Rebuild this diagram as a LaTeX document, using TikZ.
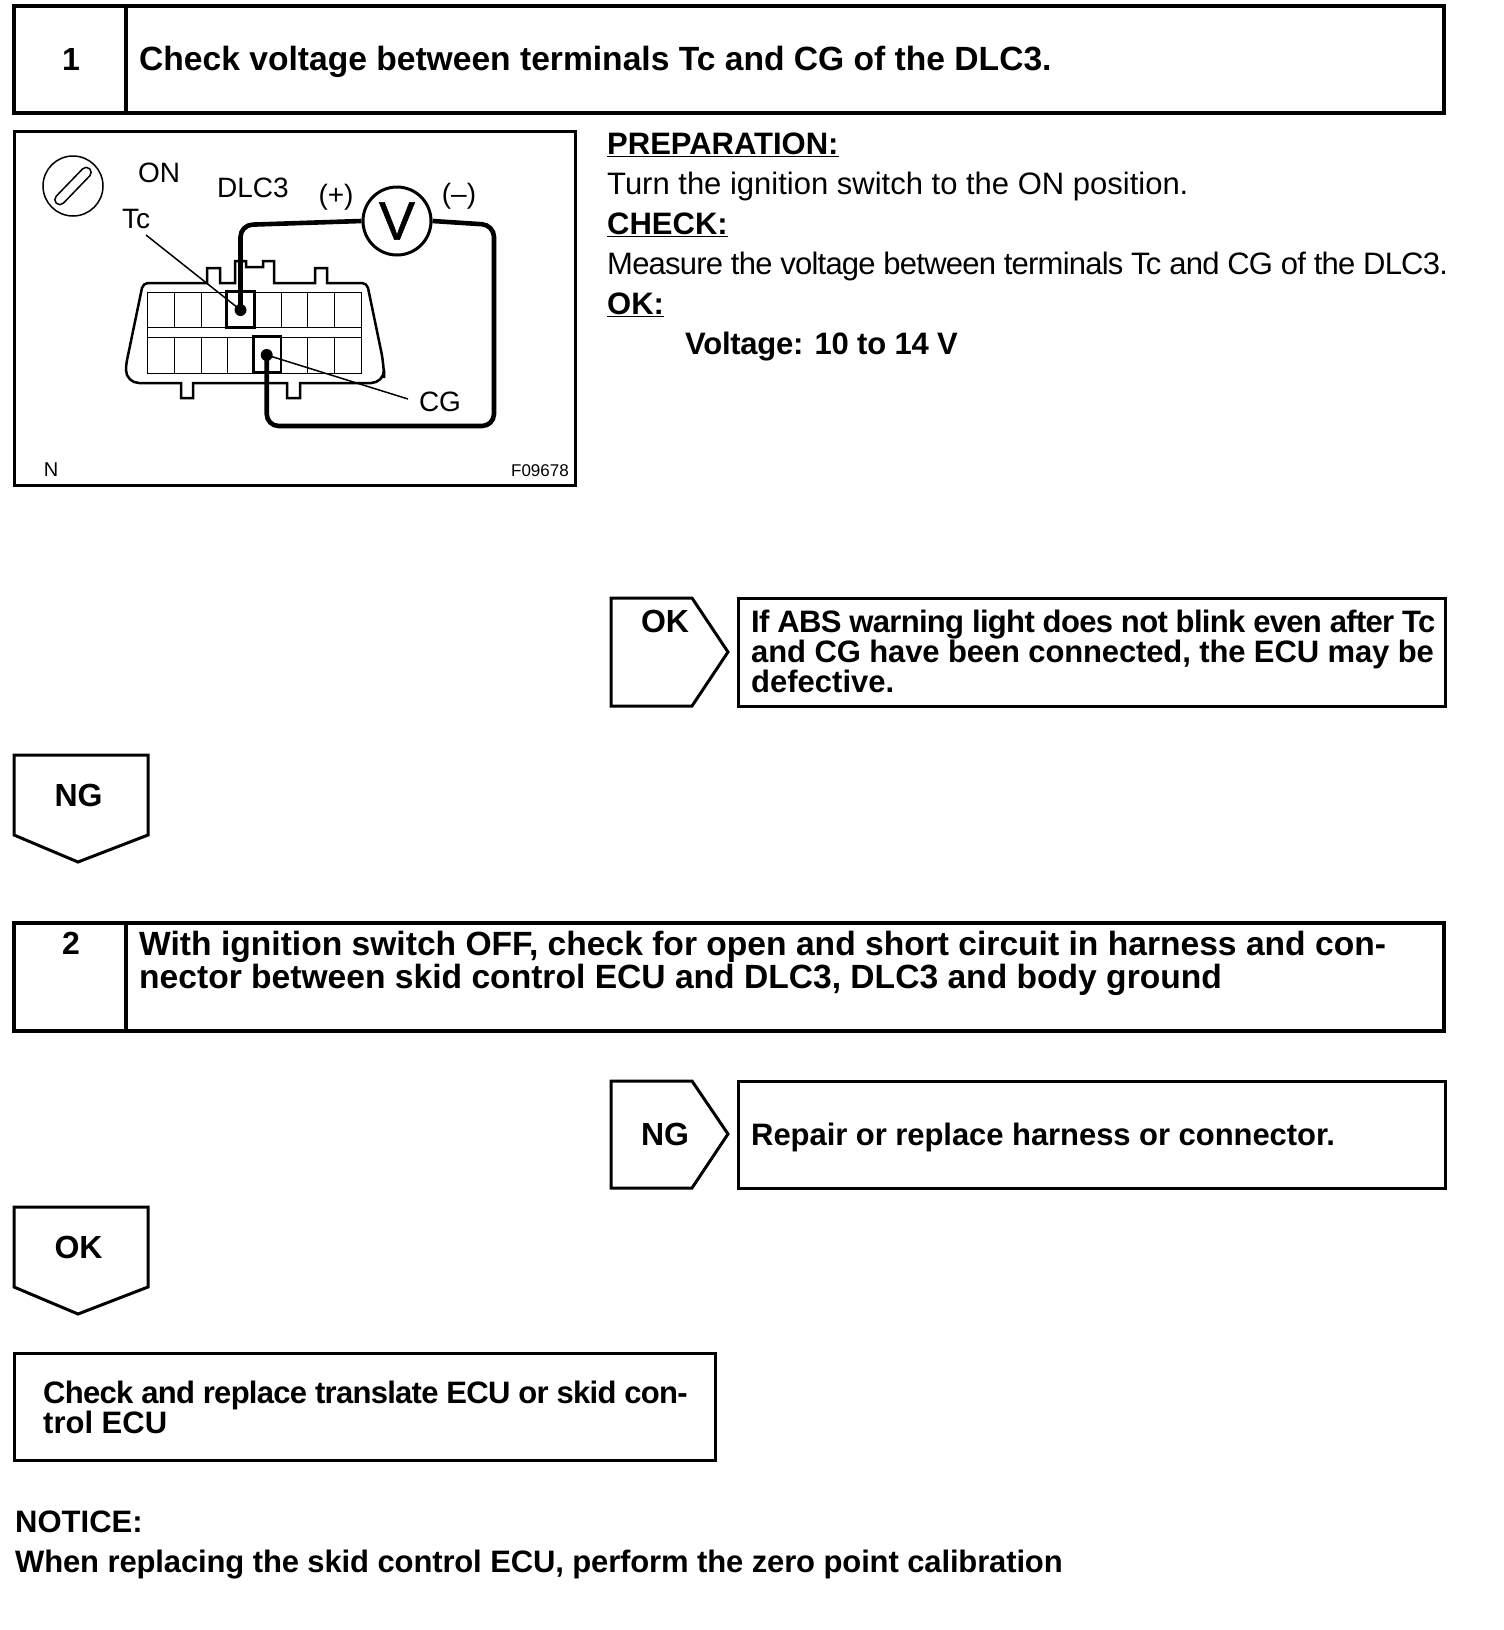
\documentclass[tikz,border=0pt]{standalone}
\usepackage{fontspec}
\setmainfont{Liberation Sans}
\newcommand{\squeezed}[2]{{\addfontfeature{LetterSpace=#1}#2}}
\tikzset{
    box/.style={line width=3.2pt},
    tagbox/.style={line width=3pt},
    thin grid/.style={line width=1.1pt},
    probe/.style={line width=4.6pt, rounded corners=12pt},
    lab/.style={inner sep=0pt, font=\fontsize{28}{30}\selectfont},
    bodytxt/.style={inner sep=0pt, anchor=west, align=left, font=\fontsize{31}{32}\bfseries\selectfont},
    flag/.style={inner sep=0pt, font=\fontsize{32}{32}\bfseries\selectfont}
}
\begin{document}
\begin{tikzpicture}[x=1pt,y=-1pt]
    \useasboundingbox (0,0) rectangle (1504,1630);
    % step 1
    \draw[box] (14,6) rectangle (1444,113);
    \draw[box] (126,6) -- (126,113);
    \node[flag] (num1) at (71,59) {1};
    \node[bodytxt, font=\fontsize{33.6}{34}\bfseries\selectfont] (title1) at (139,62) {Check voltage between terminals Tc and CG of the DLC3.};
    % picture frame
    \draw[line width=3pt] (14,131) rectangle (575,485);
    \draw[line width=1.5pt] (73,186) circle (30);
    \draw[line width=1.5pt, rounded corners=5pt, rotate around={46:(73,186)}] (49,181) rectangle (97,191);
    \node[lab] (on) at (159,173) {ON};
    \node[lab] (dlc) at (253,188) {DLC3};
    \node[lab] (plus) at (336,197) {(+)};
    \node[lab] (minus) at (459,196) {(--)};
    \node[lab] (tc) at (136,219) {Tc};
    \node[lab] (cg) at (440,402) {CG};
    \node[lab, font=\fontsize{20}{20}\selectfont] (n) at (51,470) {N};
    \node[lab, anchor=east, font=\fontsize{17}{17}\selectfont] (code) at (569,471) {F09678};
    % connector body
    \draw[line width=2.5pt, rounded corners=5pt] (207,283) -- (143,283) -- (126,365) [rounded corners=13pt] -- (126,383) [rounded corners=0pt] -- (181,383) -- (181,398) -- (193,398) -- (193,383) -- (287,383) -- (287,398) -- (300,398) -- (300,383) [rounded corners=13pt] -- (384,383) -- (384,365) [rounded corners=5pt] -- (367,283) [rounded corners=0pt] -- (327,283) -- (327,268) -- (315,268) -- (315,283) -- (274,283) -- (274,261) -- (263,261) -- (263,267) -- (246,267) -- (246,261) -- (235,261) -- (235,283) -- (220,283) -- (220,268) -- (207,268) -- cycle;
    \draw[thin grid] (147.3,292.3) rectangle (361.3,373.3);
    \draw[thin grid] (147.3,327.3) -- (361.3,327.3);
    \draw[thin grid] (147.3,337.3) -- (361.3,337.3);
    \foreach \x in {174.3,201.7,227.3,254.3,281.7,307.3,334.3} {
        \draw[thin grid] (\x,292.3) -- (\x,327.3);
        \draw[thin grid] (\x,337.3) -- (\x,373.3);
    }
    % terminals
    \draw[line width=2.6pt] (226.7,291) rectangle (254.3,327.5);
    \draw[line width=2.6pt] (253.5,336.7) rectangle (281,372.7);
    \coordinate (tcpin) at (240.5,310);
    \coordinate (cgpin) at (266.7,355);
    \fill (tcpin) circle (6);
    \fill (cgpin) circle (6);
    \draw[line width=1.5pt] (146,235) -- (tcpin);
    \draw[line width=1.5pt] (408,399) -- (cgpin);
    % tester
    \node[circle, draw, line width=3pt, minimum size=68pt, inner sep=0pt, font=\fontsize{54}{54}\selectfont\addfontfeature{FakeBold=1}] (volt) at (397,221) {V};
    \draw[probe] (tcpin) -- (240.5,225) -- (volt.west);
    \draw[probe] (volt.east) -- (494,225) -- (494,426) -- (266.7,426) -- (cgpin);
    % check text
    \node[lab, anchor=north west, align=left, font=\fontsize{31}{40}\selectfont] (prep) at (607,133) {{\bfseries\underline{PREPARATION:}}\\Turn the ignition switch to the ON position.\\{\bfseries\underline{CHECK:}}\\\squeezed{-2.5}{Measure the voltage between terminals Tc and CG of the DLC3.}\\{\bfseries\underline{OK:}}\\\hspace*{78pt}{\bfseries\squeezed{-0.8}{Voltage: 10 to 14 V}}};
    % result of step 1
    \draw[tagbox] (611,598) -- (692,598) -- (728,652) -- (692,706) -- (611,706) -- cycle;
    \node[flag] (ok1) at (665,621) {OK};
    \draw[tagbox] (738.5,598) rectangle (1445,706);
    \node[bodytxt, font=\fontsize{31}{30}\bfseries\selectfont] (advice1) at (751,651) {\squeezed{-2.2}{If ABS warning light does not blink even after Tc}\\\squeezed{-0.45}{and CG have been connected, the ECU may be}\\defective.};
    \draw[tagbox] (14,755) -- (148,755) -- (148,835) -- (78,862) -- (14,835) -- cycle;
    \node[flag] (ng1) at (78.5,795) {NG};
    % step 2
    \draw[box] (14,923) rectangle (1444,1031);
    \draw[box] (126,923) -- (126,1031);
    \node[flag] (num2) at (71,943) {2};
    \node[bodytxt, font=\fontsize{33.6}{33}\bfseries\selectfont] (title2) at (139,963) {With ignition switch OFF, check for open and short circuit in harness and con-\\nector between skid control ECU and DLC3, DLC3 and body ground};
    % result of step 2
    \draw[tagbox] (611,1081) -- (692,1081) -- (728,1134) -- (692,1188) -- (611,1188) -- cycle;
    \node[flag] (ng2) at (665,1134) {NG};
    \draw[tagbox] (738.5,1081) rectangle (1445,1188);
    \node[bodytxt] (advice2) at (751,1137) {\squeezed{-0.2}{Repair or replace harness or connector.}};
    \draw[tagbox] (14,1207) -- (148,1207) -- (148,1287) -- (78,1314) -- (14,1287) -- cycle;
    \node[flag] (ok2) at (78.5,1247) {OK};
    \draw[tagbox] (14,1353) rectangle (715,1460);
    \node[bodytxt, font=\fontsize{31}{30}\bfseries\selectfont] (advice3) at (43,1407) {\squeezed{-2.3}{Check and replace translate ECU or skid con-}\\trol ECU};
    \node[bodytxt, font=\fontsize{31}{40}\bfseries\selectfont] (notice) at (15,1545) {NOTICE:\\\squeezed{-0.45}{When replacing the skid control ECU, perform the zero point calibration}};
\end{tikzpicture}
\end{document}
